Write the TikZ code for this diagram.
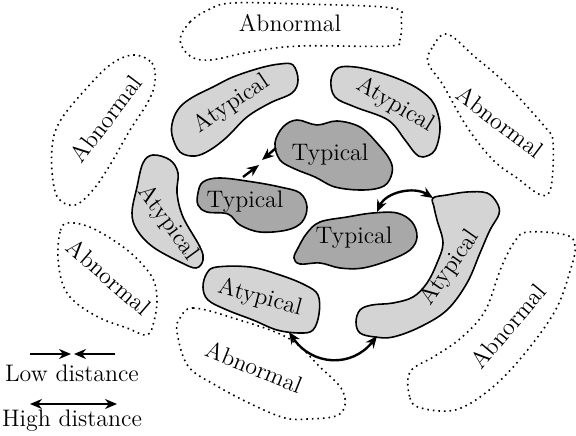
\documentclass[tikz,border=0pt]{standalone}
\usetikzlibrary{arrows.meta}
\definecolor{atypfill}{gray}{0.83}
\definecolor{typfill}{gray}{0.66}
\tikzset{
  abn/.style={draw, dotted, line width=0.8pt},
  aty/.style={draw, fill=atypfill, line width=0.8pt},
  typ/.style={draw, fill=typfill, line width=0.8pt},
  lbl/.style={font=\large, inner sep=0pt},
  onehead/.style={line width=1.2pt, -{Stealth[length=6bp,width=5bp]}},
  twohead/.style={line width=1.2pt, {Stealth[length=6bp,width=5bp]}-{Stealth[length=6bp,width=5bp]}},
  blob/.style={smooth cycle, tension=0.6}
}
\begin{document}
\begin{tikzpicture}[x=0.5bp,y=-0.5bp]
\useasboundingbox (0,0) rectangle (576,436);

% Abnormal regions (dotted)
\draw[abn] plot[blob] coordinates {(180,40) (190,22) (208,10) (232,3) (300,4) (392,8) (401,20) (400,38) (390,46) (300,46) (250,52) (210,60) (190,56)};
\draw[abn] plot[blob] coordinates {(133,55) (152,63) (155,82) (148,102) (130,130) (110,165) (93,190) (75,205) (58,198) (52,172) (53,140) (62,118) (85,90) (110,65)};
\draw[abn] plot[blob] coordinates {(447,34) (432,48) (428,63) (443,85) (467,127) (493,160) (517,178) (541,195) (551,187) (553,142) (545,127) (505,83) (475,57)};
\draw[abn] plot[blob] coordinates {(67,223) (60,232) (58,258) (63,285) (75,302) (100,318) (127,328) (147,335) (154,321) (157,298) (152,277) (133,255) (110,238) (87,226)};
\draw[abn] plot[blob] coordinates {(180,318) (193,308) (233,318) (288,338) (321,368) (341,388) (345,405) (336,416) (308,419) (285,418) (253,405) (217,386) (188,366) (177,332)};
\draw[abn] plot[blob] coordinates {(410,372) (410,398) (421,408) (455,410) (488,391) (521,358) (555,311) (571,268) (575,246) (566,235) (528,232) (515,241) (501,268) (485,311) (461,338) (435,356)};

% Atypical regions
\draw[aty] plot[blob] coordinates {(293,65) (298,80) (292,93) (270,103) (247,117) (227,137) (210,150) (195,156) (180,152) (172,135) (173,120) (180,107) (193,97) (213,87) (233,77) (260,68) (280,64)};
\draw[aty] plot[blob] coordinates {(338,68) (331,80) (335,97) (355,107) (388,120) (405,140) (415,153) (423,157) (435,150) (440,127) (434,104) (420,90) (401,80) (378,72) (355,67)};
\draw[aty] plot[blob] coordinates {(153,155) (170,160) (178,173) (177,193) (183,217) (200,247) (203,260) (196,268) (180,262) (153,247) (137,230) (132,213) (137,187) (143,163)};
\draw[aty] plot[blob] coordinates {(217,267) (207,273) (203,287) (208,300) (227,310) (253,320) (277,330) (300,333) (313,330) (319,314) (318,295) (305,285) (280,275) (250,267)};
\draw[aty] plot[blob] coordinates {(433,198) (447,195) (467,192) (487,193) (497,203) (499,214) (490,230) (480,253) (467,283) (447,310) (420,327) (393,337) (375,337) (360,333) (356,322) (360,310) (372,305) (393,303) (413,297) (427,283) (437,263) (443,243) (437,220) (434,207)};

% Typical regions
\draw[typ] plot[blob] coordinates {(275,143) (283,127) (297,120) (317,125) (337,121) (360,127) (377,143) (390,160) (392,173) (384,186) (363,190) (335,187) (315,177) (295,169) (280,160)};
\draw[typ] plot[blob] coordinates {(198,193) (203,182) (220,178) (253,182) (280,187) (300,193) (307,207) (302,222) (287,230) (260,232) (240,225) (228,214) (207,212) (198,205)};
\draw[typ] plot[blob] coordinates {(294,258) (298,248) (307,233) (320,222) (347,217) (373,213) (397,213) (412,222) (417,237) (410,250) (390,260) (363,268) (340,268) (320,263) (300,264)};

% Labels
\node[lbl] (abn1) at (290,23) {Abnormal};
\node[lbl, rotate=53] (abn2) at (106,119) {Abnormal};
\node[lbl, rotate=-37] (abn3) at (500,122) {Abnormal};
\node[lbl, rotate=-41] (abn4) at (109,277) {Abnormal};
\node[lbl, rotate=-22] (abn5) at (254,367) {Abnormal};
\node[lbl, rotate=50] (abn6) at (508,326) {Abnormal};
\node[lbl, rotate=34] (aty1) at (232,104) {Atypical};
\node[lbl, rotate=-31] (aty2) at (395,105) {Atypical};
\node[lbl, rotate=-54] (aty3) at (168,223) {Atypical};
\node[lbl, rotate=-15] (aty4) at (260,298) {Atypical};
\node[lbl, rotate=55] (aty5) at (450,268) {Atypical};
\node[lbl] (typ1) at (330,155) {Typical};
\node[lbl] (typ2) at (245,202) {Typical};
\node[lbl] (typ3) at (354,238) {Typical};

% Distance arrows
\coordinate (lowA0) at (276,148);
\coordinate (lowA1) at (262,160);
\coordinate (lowB0) at (243,177);
\coordinate (lowB1) at (259,165);
\draw[onehead] (lowA0) -- (lowA1);
\draw[onehead] (lowB0) -- (lowB1);

\coordinate (hiA0) at (377,212);
\coordinate (hiA1) at (433,198);
\draw[twohead] (hiA0) .. controls (386,192) and (414,186) .. (hiA1);
\coordinate (hiB0) at (289,332);
\coordinate (hiB1) at (377,336);
\draw[twohead] (hiB0) .. controls (312,366) and (352,368) .. (hiB1);

% Legend
\coordinate (lg1) at (30,354);
\coordinate (lg2) at (71,354);
\coordinate (lg3) at (115,354);
\coordinate (lg4) at (74,354);
\draw[onehead] (lg1) -- (lg2);
\draw[onehead] (lg3) -- (lg4);
\node[lbl] (lowtxt) at (72,373) {Low distance};
\coordinate (lg5) at (30,404);
\coordinate (lg6) at (117,404);
\draw[twohead] (lg5) -- (lg6);
\node[lbl] (hightxt) at (72,421) {High distance};
\end{tikzpicture}
\end{document}
